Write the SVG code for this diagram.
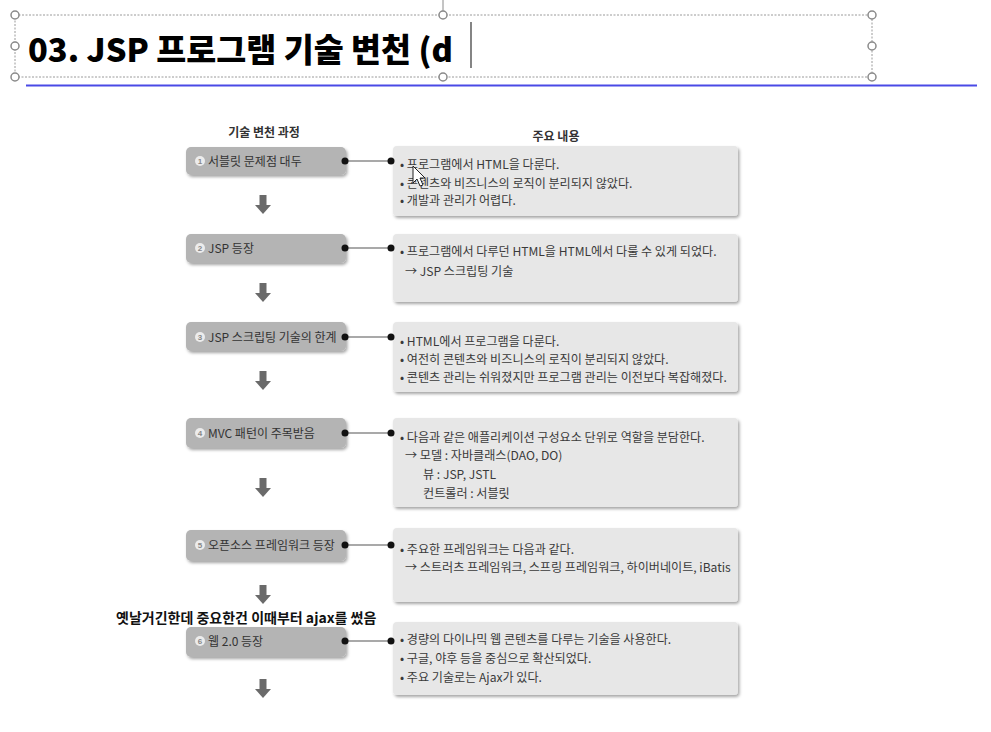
<svg xmlns="http://www.w3.org/2000/svg" width="991" height="732" viewBox="0 0 991 732">
<defs>
<style>
text{font-family:"Noto Sans CJK KR","Liberation Sans",sans-serif;}
.t{font-size:12.1px;fill:#3a3a3a;}
.lt{font-size:12px;fill:#333;}
.hd{font-size:12px;fill:#333;font-weight:bold;}
.lbox{fill:#b4b4b4;}
.rbox{fill:#e7e7e7;}
.num{fill:#ececec;}
.numt{font-size:8px;fill:#888;font-family:"Liberation Sans",sans-serif;font-weight:bold;}
.conn{stroke:#555;stroke-width:1.2;}
.dot{fill:#111;}
.arr{fill:#6a6a6a;}
.hdl{fill:#fff;stroke:#8a8a8a;stroke-width:1.5;}
</style>
<filter id="sh" x="-5%" y="-10%" width="112%" height="130%">
<feDropShadow dx="1.5" dy="2" stdDeviation="1.5" flood-color="#000" flood-opacity="0.35"/>
</filter>
<g id="darrow"><rect x="-3.5" y="0" width="7" height="11" class="arr"/><polygon points="-8,10 8,10 0,19" class="arr"/></g>
</defs>
<rect width="991" height="732" fill="#fff"/>

<g id="title">
<line x1="443" y1="0" x2="443" y2="15" stroke="#8a8a8a" stroke-width="1"/>
<rect x="15" y="15" width="857" height="62" fill="none" stroke="#9a9a9a" stroke-width="1" stroke-dasharray="2,1.5"/>
<text x="28" y="62" font-size="32.6" font-weight="900" fill="#000">03. JSP 프로그램 기술 변천 (d</text>
<line x1="471" y1="22" x2="471" y2="68" stroke="#333" stroke-width="1.2"/>
<circle cx="15" cy="15" r="4" class="hdl"/><circle cx="443" cy="15" r="4" class="hdl"/><circle cx="872" cy="15" r="4" class="hdl"/>
<circle cx="15" cy="46" r="4" class="hdl"/><circle cx="872" cy="46" r="4" class="hdl"/>
<circle cx="15" cy="77" r="4" class="hdl"/><circle cx="443" cy="77" r="4" class="hdl"/><circle cx="872" cy="77" r="4" class="hdl"/>
<line x1="26" y1="85.5" x2="977" y2="85.5" stroke="#4a4ae6" stroke-width="2"/>
</g>

<g id="headers">
<text x="264" y="137" class="hd" text-anchor="middle">기술 변천 과정</text>
<text x="556" y="141" class="hd" text-anchor="middle">주요 내용</text>
</g>

<g id="step1">
<rect x="186" y="147" width="160" height="28" rx="5" class="lbox" filter="url(#sh)"/>
<circle cx="200" cy="161" r="5" class="num"/><text x="200" y="164" class="numt" text-anchor="middle">1</text>
<text x="208" y="166" class="lt">서블릿 문제점 대두</text>
</g>
<g id="content1">
<rect x="393" y="146" width="345" height="70" rx="4" class="rbox" filter="url(#sh)"/>
<text x="400" y="168.5" class="t">• 프로그램에서 HTML을 다룬다.</text>
<text x="400" y="187.5" class="t">• 콘텐츠와 비즈니스의 로직이 분리되지 않았다.</text>
<text x="400" y="204.5" class="t">• 개발과 관리가 어렵다.</text>
<polygon points="413,166 413,183 417,179 420,186 423,185 420,178 425,178" fill="#fff" stroke="#222" stroke-width="1"/>
</g>

<g id="step2">
<rect x="186" y="234" width="160" height="29" rx="5" class="lbox" filter="url(#sh)"/>
<circle cx="200" cy="248" r="5" class="num"/><text x="200" y="251" class="numt" text-anchor="middle">2</text>
<text x="208" y="253" class="lt">JSP 등장</text>
</g>
<g id="content2">
<rect x="393" y="234" width="345" height="68" rx="4" class="rbox" filter="url(#sh)"/>
<text x="400" y="255.5" class="t">• 프로그램에서 다루던 HTML을 HTML에서 다룰 수 있게 되었다.</text>
<text x="405" y="275.5" class="t">→ JSP 스크립팅 기술</text>
</g>

<g id="step3">
<rect x="186" y="322" width="160" height="29" rx="5" class="lbox" filter="url(#sh)"/>
<circle cx="200" cy="337" r="5" class="num"/><text x="200" y="340" class="numt" text-anchor="middle">3</text>
<text x="208" y="342" class="lt">JSP 스크립팅 기술의 한계</text>
</g>
<g id="content3">
<rect x="393" y="322" width="345" height="70" rx="4" class="rbox" filter="url(#sh)"/>
<text x="400" y="345.5" class="t">• HTML에서 프로그램을 다룬다.</text>
<text x="400" y="363.5" class="t">• 여전히 콘텐츠와 비즈니스의 로직이 분리되지 않았다.</text>
<text x="400" y="381.5" class="t">• 콘텐츠 관리는 쉬워졌지만 프로그램 관리는 이전보다 복잡해졌다.</text>
</g>

<g id="step4">
<rect x="186" y="418" width="160" height="30" rx="5" class="lbox" filter="url(#sh)"/>
<circle cx="200" cy="433" r="5" class="num"/><text x="200" y="436" class="numt" text-anchor="middle">4</text>
<text x="208" y="438" class="lt">MVC 패턴이 주목받음</text>
</g>
<g id="content4">
<rect x="393" y="418" width="345" height="89" rx="4" class="rbox" filter="url(#sh)"/>
<text x="400" y="441.5" class="t">• 다음과 같은 애플리케이션 구성요소 단위로 역할을 분담한다.</text>
<text x="405" y="459.5" class="t">→ 모델 : 자바클래스(DAO, DO)</text>
<text x="423" y="478.5" class="t">뷰 : JSP, JSTL</text>
<text x="423" y="497.5" class="t">컨트롤러 : 서블릿</text>
</g>

<g id="step5">
<rect x="186" y="530" width="160" height="31" rx="5" class="lbox" filter="url(#sh)"/>
<circle cx="200" cy="545" r="5" class="num"/><text x="200" y="548" class="numt" text-anchor="middle">5</text>
<text x="208" y="550" class="lt">오픈소스 프레임워크 등장</text>
</g>
<g id="content5">
<rect x="393" y="528" width="345" height="74" rx="4" class="rbox" filter="url(#sh)"/>
<text x="400" y="553.5" class="t">• 주요한 프레임워크는 다음과 같다.</text>
<text x="405" y="571.5" class="t">→ 스트러츠 프레임워크, 스프링 프레임워크, 하이버네이트, iBatis</text>
</g>

<g id="note">
<text x="116" y="623" font-size="14" font-weight="bold" fill="#111">옛날거긴한데 중요한건 이때부터 ajax를 썼음</text>
</g>

<g id="step6">
<rect x="186" y="627" width="160" height="30" rx="5" class="lbox" filter="url(#sh)"/>
<circle cx="200" cy="641" r="5" class="num"/><text x="200" y="644" class="numt" text-anchor="middle">6</text>
<text x="208" y="646" class="lt">웹 2.0 등장</text>
</g>
<g id="content6">
<rect x="393" y="622" width="345" height="73" rx="4" class="rbox" filter="url(#sh)"/>
<text x="400" y="643.5" class="t">• 경량의 다이나믹 웹 콘텐츠를 다루는 기술을 사용한다.</text>
<text x="400" y="662.5" class="t">• 구글, 야후 등을 중심으로 확산되었다.</text>
<text x="400" y="681.5" class="t">• 주요 기술로는 Ajax가 있다.</text>
</g>

<g id="connectors">
<line x1="345" y1="161" x2="391" y2="161" class="conn"/><circle cx="345" cy="161" r="3.5" class="dot"/><circle cx="391" cy="161" r="3.5" class="dot"/>
<line x1="345" y1="248" x2="391" y2="248" class="conn"/><circle cx="345" cy="248" r="3.5" class="dot"/><circle cx="391" cy="248" r="3.5" class="dot"/>
<line x1="345" y1="337" x2="391" y2="337" class="conn"/><circle cx="345" cy="337" r="3.5" class="dot"/><circle cx="391" cy="337" r="3.5" class="dot"/>
<line x1="345" y1="433" x2="391" y2="433" class="conn"/><circle cx="345" cy="433" r="3.5" class="dot"/><circle cx="391" cy="433" r="3.5" class="dot"/>
<line x1="345" y1="545" x2="391" y2="545" class="conn"/><circle cx="345" cy="545" r="3.5" class="dot"/><circle cx="391" cy="545" r="3.5" class="dot"/>
<line x1="345" y1="641" x2="391" y2="641" class="conn"/><circle cx="345" cy="641" r="3.5" class="dot"/><circle cx="391" cy="641" r="3.5" class="dot"/>
<use href="#darrow" x="263" y="195"/>
<use href="#darrow" x="263" y="283"/>
<use href="#darrow" x="263" y="371"/>
<use href="#darrow" x="263" y="478"/>
<use href="#darrow" x="263" y="585"/>
<use href="#darrow" x="263" y="679"/>
</g>
</svg>
